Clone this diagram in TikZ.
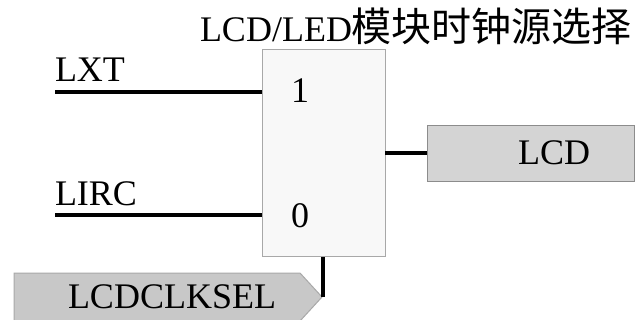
\documentclass[tikz,border=0pt]{standalone}
\usepackage{fontspec}
\setmainfont{Liberation Serif}
\newfontfamily\cjk{Noto Sans CJK SC}
\definecolor{muxfill}{HTML}{F8F8F8}
\definecolor{muxline}{HTML}{A8A8A8}
\definecolor{boxfill}{HTML}{D4D4D4}
\definecolor{boxline}{HTML}{8C8C8C}
\definecolor{selfill}{HTML}{C8C8C8}
\tikzset{
  lbl/.style={inner sep=0pt, outer sep=0pt, font=\fontsize{36}{40}\selectfont},
  wire/.style={line width=3.5pt, black},
}
\begin{document}
\begin{tikzpicture}[x=1pt,y=-1pt]
\useasboundingbox (0,0) rectangle (644,320);
% title
\node[lbl, anchor=base west] (title) at (200,42) {LCD/LED{\cjk\fontsize{40}{44}\selectfont 模块时钟源选择}};
% mux
\node[draw=muxline, fill=muxfill, line width=1pt, minimum width=123pt, minimum height=206pt, inner sep=0pt] (mux) at (323.5,153) {};
\node[lbl, anchor=base] (one) at (300,103) {1};
\node[lbl, anchor=base] (zero) at (300,227) {0};
% inputs
\node[lbl, anchor=base west] (lxt) at (55,82) {LXT};
\node[lbl, anchor=base west] (lirc) at (55,205) {LIRC};
\coordinate (lxtstart) at (55,92);
\coordinate (lircstart) at (55,215);
\draw[wire] (lxtstart) -- (lxtstart -| mux.west);
\draw[wire] (lircstart) -- (lircstart -| mux.west);
% output
\node[draw=boxline, fill=boxfill, line width=1pt, minimum width=207pt, minimum height=56pt, inner sep=0pt] (lcd) at (530.5,154) {};
\node[lbl, anchor=base west] (lcdtxt) at (518,165) {LCD};
\coordinate (outy) at (385,153);
\draw[wire] (outy) -- (outy -| lcd.west);
% select
\draw[draw=muxline, fill=selfill, line width=1pt] (14,273) -- (300,273) -- (322,297) -- (300,321) -- (14,321) -- cycle;
\node[lbl, anchor=base west] (sel) at (68,308) {LCDCLKSEL};
\coordinate (seltip) at (323,297);
\draw[wire] (seltip) -- (seltip |- mux.south);
\end{tikzpicture}
\end{document}
